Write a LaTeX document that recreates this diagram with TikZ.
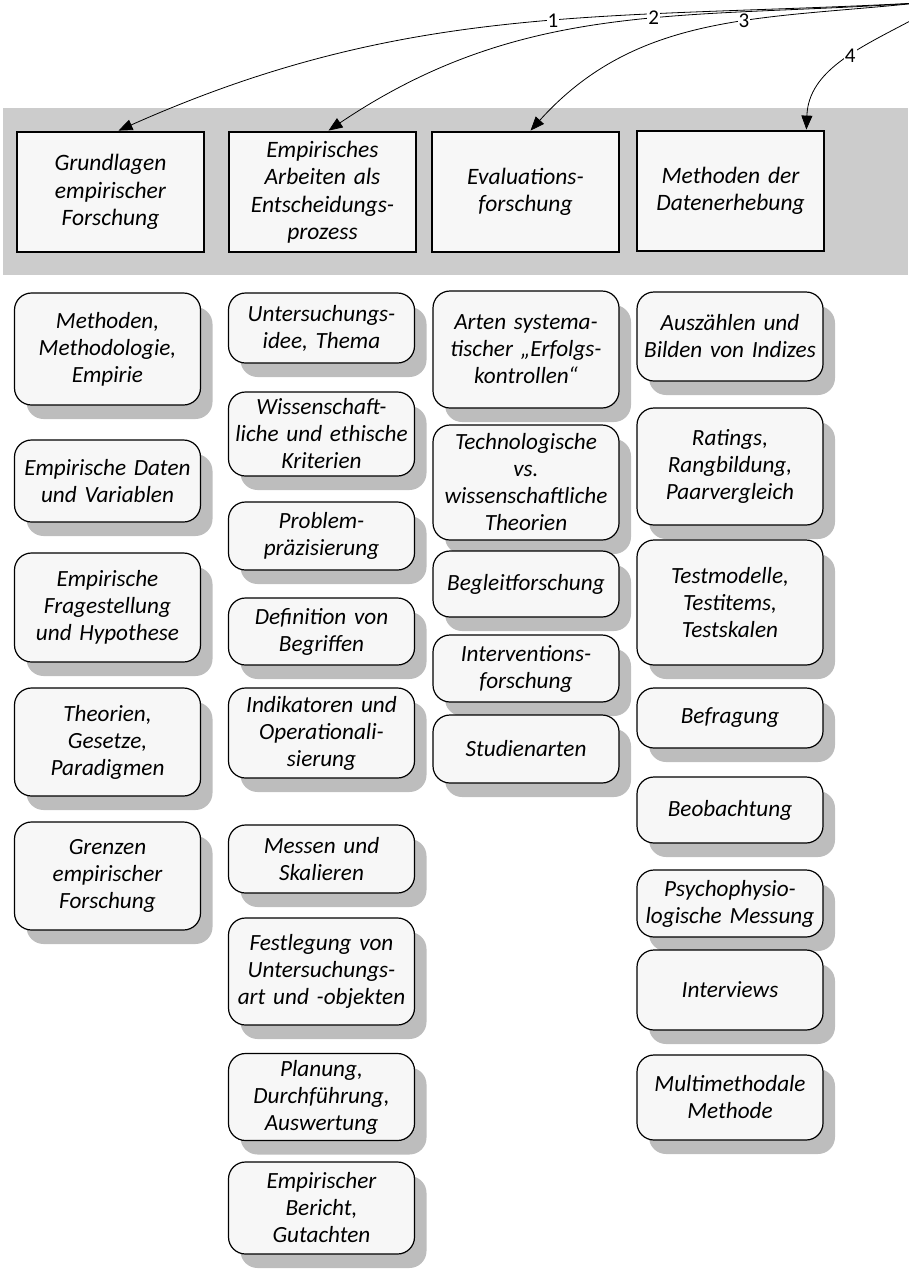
\documentclass[tikz,border=0pt]{standalone}
\usepackage{fontspec}
\setmainfont{Carlito}
\usetikzlibrary{arrows.meta,shadows}

\begin{document}
\begin{tikzpicture}[x=1pt,y=1pt,
  hdr/.style={draw,line width=2.8pt,fill=black!3,minimum width=187pt,minimum height=120pt,
    text width=181pt,align=center,inner sep=2pt,font=\fontsize{23.5}{27.5}\selectfont\itshape},
  item/.style={draw,line width=1.2pt,rounded corners=17pt,fill=black!3,minimum width=186pt,
    text width=182pt,align=center,inner sep=2pt,font=\fontsize{23.2}{27}\selectfont\itshape,
    drop shadow={shadow xshift=12pt,shadow yshift=-14pt,fill=black!26,opacity=1}},
  num/.style={fill=white,inner sep=1pt,font=\fontsize{21}{21}\selectfont},
  link/.style={line width=0.8pt,-{Triangle[length=14pt,width=11pt]}}]
\useasboundingbox (0,0) rectangle (908,-1269);

% band with the four topics
\fill[black!20] (3,-108) rectangle (908,-275);
\node[hdr] (h1) at (110.5,-192) {Grundlagen\\empirischer\\Forschung};
\node[hdr] (h2) at (322.5,-192) {Empirisches\\Arbeiten als\\Entscheidungs-\\prozess};
\node[hdr] (h3) at (525.5,-192) {Evaluations-\\forschung};
\node[hdr] (h4) at (730.5,-191) {Methoden der\\Datenerhebung};

% numbered links
\coordinate (src) at (918,-3);
\coordinate (src4) at (912,-20);
\draw[link] (src) to[out=183,in=24] node[num,pos=0.44] {1} ([xshift=8pt]h1.north);
\draw[link] (src) to[out=184,in=34] node[num,pos=0.42] {2} ([xshift=6pt]h2.north);
\draw[link] (src) to[out=186,in=48] node[num,pos=0.4] {3} ([xshift=5pt]h3.north);
\draw[link] (src4) to[out=208,in=88] node[num,pos=0.42] {4} ([xshift=-19pt]h4.north east);

% column 1
\node[item,minimum height=112pt] (b1) at (107.5,-349) {Methoden,\\Methodologie,\\Empirie};
\node[item,minimum height=82pt] (b2) at (107.5,-481) {Empirische Daten\\und Variablen};
\node[item,minimum height=109pt] (b3) at (107.5,-607.5) {Empirische\\Fragestellung\\und Hypothese};
\node[item,minimum height=108pt] (b4) at (107.5,-742) {Theorien,\\Gesetze,\\Paradigmen};
\node[item,minimum height=108pt] (b5) at (107.5,-876) {Grenzen\\empirischer\\Forschung};

% column 2
\node[item,minimum height=70pt] (c1) at (321.5,-328) {Untersuchungs-\\idee, Thema};
\node[item,minimum height=84pt] (c2) at (321.5,-434) {Wissenschaft-\\liche und ethische\\Kriterien};
\node[item,minimum height=68pt] (c3) at (321.5,-536) {Problem-\\präzisierung};
\node[item,minimum height=67pt] (c4) at (321.5,-631.5) {Definition von\\Begriffen};
\node[item,minimum height=90pt] (c5) at (321.5,-733) {Indikatoren und\\Operationali-\\sierung};
\node[item,minimum height=68pt] (c6) at (321.5,-859) {Messen und\\Skalieren};
\node[item,minimum height=107pt] (c7) at (321.5,-971.5) {Festlegung von\\Untersuchungs-\\art und -objekten};
\node[item,minimum height=87pt] (c8) at (321.5,-1097) {Planung,\\Durchführung,\\Auswertung};
\node[item,minimum height=92pt] (c9) at (321.5,-1208) {Empirischer\\Bericht,\\Gutachten};

% column 3
\node[item,minimum height=117pt] (d1) at (526,-349.5) {Arten systema-\\tischer „Erfolgs-\\kontrollen“};
\node[item,minimum height=115pt] (d2) at (526,-482.5) {Technologische\\vs.\\wissenschaftliche\\Theorien};
\node[item,minimum height=66pt] (d3) at (526,-584) {Begleitforschung};
\node[item,minimum height=67pt] (d4) at (526,-668.5) {Interventions-\\forschung};
\node[item,minimum height=68pt] (d5) at (526,-749) {Studienarten};

% column 4
\node[item,minimum height=89pt] (e1) at (730,-336.5) {Auszählen und\\Bilden von Indizes};
\node[item,minimum height=117pt] (e2) at (730,-466.5) {Ratings,\\Rangbildung,\\Paarvergleich};
\node[item,minimum height=125pt] (e3) at (730,-602.5) {Testmodelle,\\Testitems,\\Testskalen};
\node[item,minimum height=60pt] (e4) at (730,-718) {Befragung};
\node[item,minimum height=66pt] (e5) at (730,-810) {Beobachtung};
\node[item,minimum height=67pt] (e6) at (730,-903.5) {Psychophysio-\\logische Messung};
\node[item,minimum height=80pt] (e7) at (730,-990) {Interviews};
\node[item,minimum height=85pt] (e8) at (730,-1097.5) {Multimethodale\\Methode};
\end{tikzpicture}
\end{document}
